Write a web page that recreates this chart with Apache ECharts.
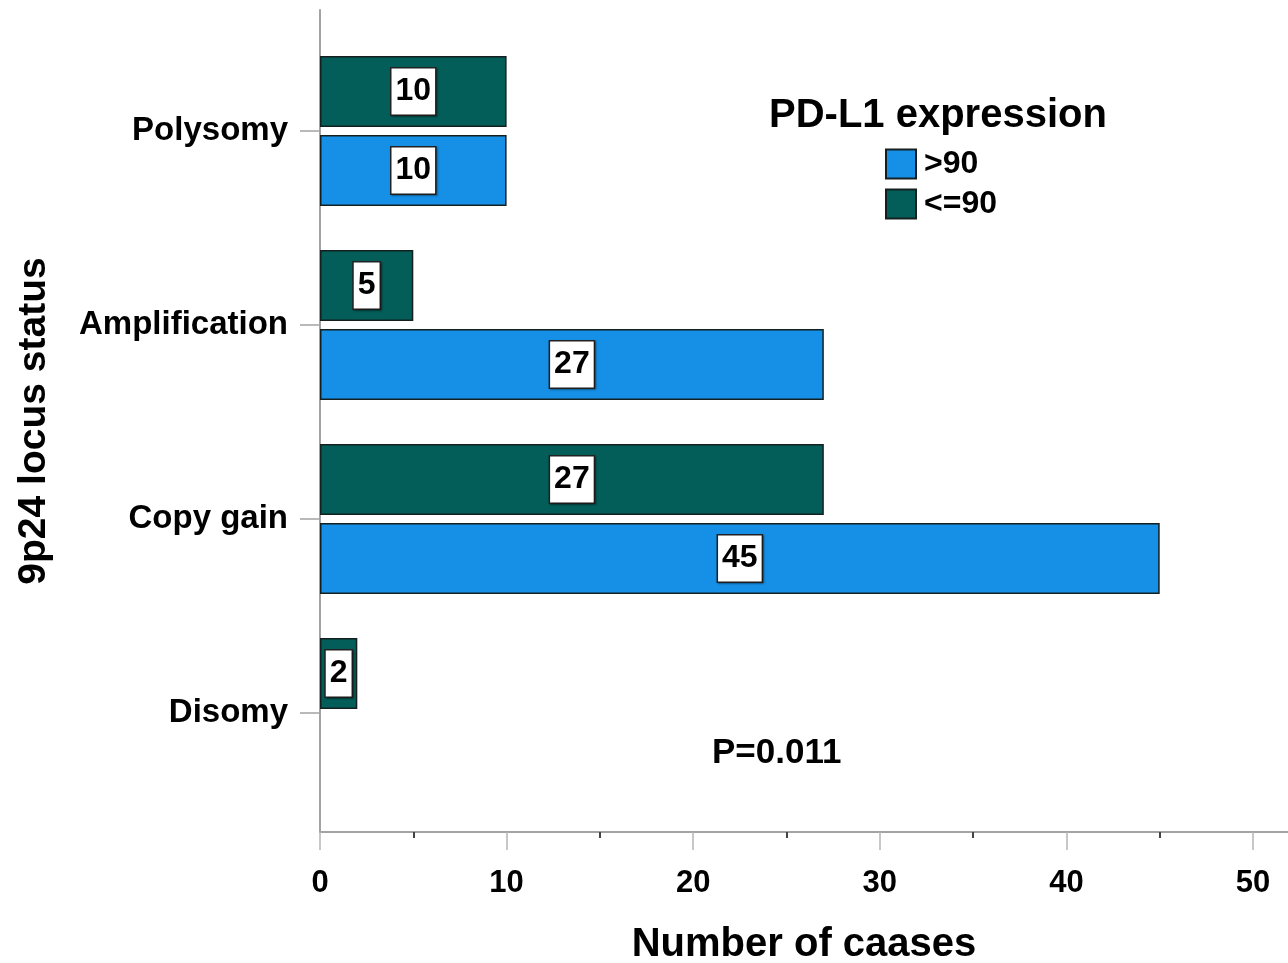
<!DOCTYPE html>
<html>
<head>
<meta charset="utf-8">
<script src="https://cdn.jsdelivr.net/npm/echarts@6/dist/echarts.min.js"></script>
<style>
  html, body { margin: 0; padding: 0; background: #fff; }
  #chart { width: 1288px; height: 963px; }
</style>
</head>
<body>
<div id="chart"></div>
<script>
// 9p24 locus status, bottom to top
const categories = ['Disomy', 'Copy gain', 'Amplification', 'Polysomy']
// PD-L1 expression groups
const lowExpr = [2, 27, 5, 10]   // <=90
const highExpr = [0, 45, 27, 10] // >90
const xTicks = [0, 10, 20, 30, 40, 50]

const FONT = '"Liberation Sans", Arial, sans-serif'
const GREY = '#a3a3a3'

const chart = echarts.init(document.getElementById('chart'))

const valueLabel = {
  show: true,
  position: 'inside',
  formatter: p => (p.value ? String(p.value) : ''),
  fontFamily: FONT,
  fontSize: 32,
  fontWeight: 'bold',
  color: '#000',
  backgroundColor: '#fff',
  borderColor: '#222',
  borderWidth: 1.5,
  padding: [9, 4, 5, 4],
  shadowColor: 'rgba(0,0,0,0.35)',
  shadowBlur: 2,
  shadowOffsetX: 1,
  shadowOffsetY: 1
}

const option = {
  animation: false,
  backgroundColor: '#fff',
  textStyle: { fontFamily: FONT },
  title: [
    {
      text: 'PD-L1 expression',
      left: 769,
      top: 96,
      padding: 0,
      textStyle: { fontFamily: FONT, fontSize: 40, fontWeight: 'bold', color: '#000' }
    },
    {
      text: 'P=0.011',
      left: 712,
      top: 736,
      padding: 0,
      textStyle: { fontFamily: FONT, fontSize: 35, fontWeight: 'bold', color: '#000' }
    }
  ],
  legend: {
    data: ['>90', '<=90'],
    orient: 'vertical',
    left: 885,
    top: 148,
    padding: 0,
    itemWidth: 30,
    itemHeight: 29,
    itemGap: 8,
    icon: 'rect',
    textStyle: {
      fontFamily: FONT,
      fontSize: 32,
      fontWeight: 'bold',
      color: '#000',
      padding: [3, 0, 0, 3]
    }
  },
  grid: [
    { left: 320, top: 34, width: 933, height: 776, outerBoundsMode: 'none', containLabel: false },
    { left: 320, top: 10, width: 968, height: 822, outerBoundsMode: 'none', containLabel: false }
  ],
  xAxis: [
    {
      gridIndex: 0,
      type: 'value',
      min: xTicks[0],
      max: xTicks[xTicks.length - 1],
      interval: 10,
      offset: 22,
      axisLine: { show: true, lineStyle: { color: GREY, width: 2 } },
      axisTick: { show: true, length: 18, lineStyle: { color: '#b5b5b5', width: 1.5 } },
      minorTick: { show: true, splitNumber: 2, length: 6, lineStyle: { color: '#444', width: 2 } },
      splitLine: { show: false },
      axisLabel: { margin: 36, fontFamily: FONT, fontSize: 31, fontWeight: 'bold', color: '#000' }
    },
    {
      gridIndex: 1,
      type: 'value',
      min: 0,
      max: 1,
      axisLine: { show: true, lineStyle: { color: GREY, width: 2 } },
      axisTick: { show: false },
      axisLabel: { show: false },
      splitLine: { show: false },
      name: 'Number of caases',
      nameLocation: 'middle',
      nameGap: 93,
      nameTextStyle: { fontFamily: FONT, fontSize: 40, fontWeight: 'bold', color: '#000' }
    }
  ],
  yAxis: [
    {
      gridIndex: 0,
      type: 'category',
      data: categories,
      axisLine: { show: false },
      axisTick: { show: true, alignWithLabel: true, length: 20, lineStyle: { color: GREY, width: 1.5 } },
      axisLabel: {
        margin: 32,
        fontFamily: FONT,
        fontSize: 33,
        fontWeight: 'bold',
        color: '#000',
        padding: [16, 0, 0, 0]
      }
    },
    {
      gridIndex: 1,
      type: 'value',
      min: 0,
      max: 1,
      axisLine: { show: true, lineStyle: { color: GREY, width: 2 } },
      axisTick: { show: false },
      axisLabel: { show: false },
      splitLine: { show: false },
      name: '9p24 locus status',
      nameLocation: 'middle',
      nameGap: 266,
      nameTextStyle: { fontFamily: FONT, fontSize: 39, fontWeight: 'bold', color: '#000' }
    }
  ],
  series: [
    {
      name: '<=90',
      type: 'bar',
      xAxisIndex: 0,
      yAxisIndex: 0,
      data: lowExpr,
      barWidth: 71,
      barGap: '11%',
      itemStyle: { color: '#035e59', borderColor: '#142020', borderWidth: 1.5 },
      label: valueLabel
    },
    {
      name: '>90',
      type: 'bar',
      xAxisIndex: 0,
      yAxisIndex: 0,
      data: highExpr.map(v => (v === 0 ? '-' : v)),
      barWidth: 71,
      barGap: '11%',
      itemStyle: { color: '#1590e6', borderColor: '#142020', borderWidth: 1.5 },
      label: valueLabel
    }
  ]
}

chart.setOption(option)
window.addEventListener('resize', function() {
  chart.resize()
})
</script>
</body>
</html>
